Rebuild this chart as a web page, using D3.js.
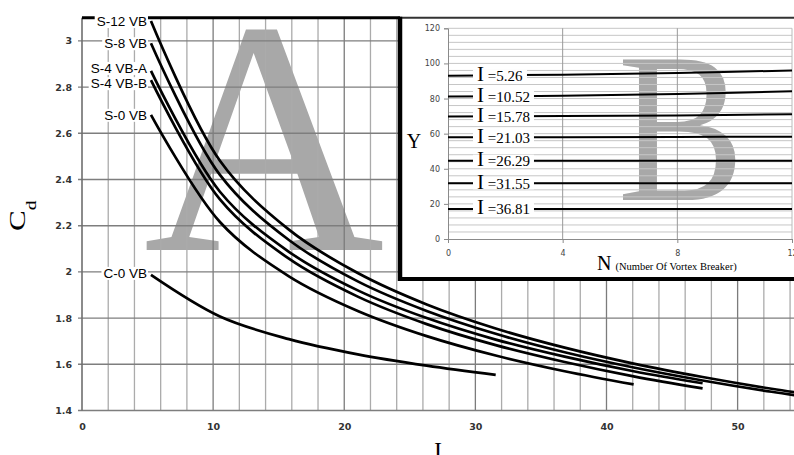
<!DOCTYPE html>
<html>
<head>
<meta charset="utf-8">
<script src="https://cdn.jsdelivr.net/npm/d3@7"></script>
<style>
  body { margin: 0; background: #fff; }
  svg { display: block; }
</style>
</head>
<body>
<div id="chart"></div>
<script>
// main chart data: Cd against I for each configuration
var iValues = [5.26, 10.52, 15.78, 21.03, 26.29, 31.55, 36.81, 42.07, 47.33, 52.59, 57.85];
var seriesNames = ["S-12 VB", "S-8 VB", "S-4 VB-A", "S-4 VB-B", "S-0 VB", "C-0 VB"];
var cdS12 = [3.086, 2.481, 2.183, 1.995, 1.859, 1.755, 1.672, 1.603, 1.545, 1.494, 1.450];
var cdS8 = [2.99, 2.420, 2.138, 1.959, 1.831, 1.732, 1.652, 1.586, 1.530, 1.481, 1.439];
var cdS4A = [2.87, 2.347, 2.087, 1.920, 1.800, 1.707, 1.633, 1.570, 1.518];
var cdS4B = [2.83, 2.314, 2.057, 1.893, 1.774, 1.683, 1.610, 1.548, 1.496];
var cdS0 = [2.68, 2.216, 1.981, 1.831, 1.722, 1.638, 1.570, 1.513];
var cdC0 = [1.987, 1.807, 1.709, 1.643, 1.594, 1.554];
var cdSeries = [cdS12, cdS8, cdS4A, cdS4B, cdS0, cdC0];
var yTicks = [1.4, 1.6, 1.8, 2, 2.2, 2.4, 2.6, 2.8, 3];
var xTicks = [0, 10, 20, 30, 40, 50];

// inset data: Y against N for each I
var nValues = [0, 4, 8, 12];
var insetNames = ["5.26", "10.52", "15.78", "21.03", "26.29", "31.55", "36.81"];
var yI1 = [93, 93.6, 94.5, 96];
var yI2 = [81.1, 81.6, 82.6, 84.2];
var yI3 = [69.7, 70, 70.4, 71];
var yI4 = [57.9, 58, 58.1, 58.3];
var yI5 = [44.6, 44.6, 44.6, 44.6];
var yI6 = [31.7, 31.7, 31.7, 31.7];
var yI7 = [17.1, 17.1, 17.1, 17.1];
var insetSeries = [yI1, yI2, yI3, yI4, yI5, yI6, yI7];
var insetYTicks = [0, 20, 40, 60, 80, 100, 120];
var insetXTicks = [0, 4, 8, 12];

// label nudges so the two S-4 labels do not overlap
var labelNudge = [0, 0, -3, 3, 0, -2];

var svg = d3.select("#chart")
  .append("svg")
    .attr("width", 794)
    .attr("height", 455);

svg.append("rect").attr("width", 794).attr("height", 455).attr("fill", "#fff");

// scales for the main chart
var x = d3.scaleLinear().domain([0, 54.3]).range([82, 794]);
var y = d3.scaleLinear().domain([1.4, 3.1]).range([410.5, 17.8]);

// big watermark letter A
svg.append("text")
  .attr("x", 264)
  .attr("y", 250)
  .attr("text-anchor", "middle")
  .style("font", "334px 'Liberation Serif', serif")
  .attr("fill", "#a8a8a8")
  .text("A");

// vertical grid lines every 2
svg.append("g").selectAll("line")
  .data(d3.range(2, 56, 2))
  .enter().append("line")
    .attr("x1", function(d) { return x(d); })
    .attr("x2", function(d) { return x(d); })
    .attr("y1", y(3.1))
    .attr("y2", y(1.4))
    .attr("stroke", function(d) { return d % 10 === 0 ? "#7c7c7c" : "#ababab"; })
    .attr("stroke-width", 1.3);

// horizontal grid lines
svg.append("g").selectAll("line")
  .data(yTicks)
  .enter().append("line")
    .attr("x1", x(0) - 4)
    .attr("x2", 794)
    .attr("y1", function(d) { return y(d); })
    .attr("y2", function(d) { return y(d); })
    .attr("stroke", "#7e7e7e")
    .attr("stroke-width", 1.4);

// left axis line and top border
svg.append("line")
  .attr("x1", x(0)).attr("x2", x(0))
  .attr("y1", y(3.1)).attr("y2", y(1.4))
  .attr("stroke", "#6e6e6e").attr("stroke-width", 1.6);
svg.append("line")
  .attr("x1", x(0)).attr("x2", 400)
  .attr("y1", y(3.1)).attr("y2", y(3.1))
  .attr("stroke", "#000").attr("stroke-width", 3);

// axes tick labels
var yAxis = d3.axisLeft(y).tickValues(yTicks).tickSize(0).tickPadding(10).tickFormat(d3.format(""));
var gy = svg.append("g").attr("transform", "translate(" + x(0) + ",0)").call(yAxis);
var xAxis = d3.axisBottom(x).tickValues(xTicks).tickSize(0).tickPadding(13);
var gx = svg.append("g").attr("transform", "translate(0," + y(1.4) + ")").call(xAxis);
[gx, gy].forEach(function(g) {
  g.select(".domain").remove();
  g.selectAll("text")
    .style("font", "bold 9.5px 'DejaVu Sans', sans-serif")
    .attr("fill", "#333");
});

// curves
var line = d3.line()
  .x(function(d) { return x(d[0]); })
  .y(function(d) { return y(d[1]); })
  .curve(d3.curveCatmullRom.alpha(0.5));

cdSeries.forEach(function(vals) {
  var pts = vals.map(function(v, i) { return [iValues[i], v]; });
  svg.append("path")
    .datum(pts)
    .attr("d", line)
    .attr("fill", "none")
    .attr("stroke", "#000")
    .attr("stroke-width", 2.7);
});

// curve labels with white background
cdSeries.forEach(function(vals, k) {
  var g = svg.append("g");
  var ty = y(vals[0]) + labelNudge[k] + 5;
  var t = g.append("text")
    .attr("x", x(iValues[0]) - 4)
    .attr("y", ty)
    .attr("text-anchor", "end")
    .style("font", "13.5px 'Liberation Sans', sans-serif")
    .attr("fill", "#000")
    .text(seriesNames[k]);
  var b = t.node().getBBox();
  g.insert("rect", "text")
    .attr("x", b.x - 2).attr("y", ty - 11)
    .attr("width", b.width + 3).attr("height", 13)
    .attr("fill", "#fff");
});

// axis titles
var cLabel = svg.append("text")
  .attr("transform", "translate(25,231) rotate(-90) scale(1.3,1)")
  .style("font", "24px 'Liberation Serif', serif")
  .attr("fill", "#000");
cLabel.append("tspan").text("C");
cLabel.append("tspan").attr("dy", 11).style("font-size", "15px").text("d");

svg.append("text")
  .attr("x", 438)
  .attr("y", 458)
  .attr("text-anchor", "middle")
  .style("font", "24px 'Liberation Serif', serif")
  .attr("fill", "#000")
  .text("I");

// ---- inset B ----
var inset = svg.append("g");
inset.append("rect")
  .attr("x", 400).attr("y", y(3.1))
  .attr("width", 400).attr("height", 279 - y(3.1))
  .attr("fill", "#fff");

var xn = d3.scaleLinear().domain([0, 12]).range([448, 792]);
var yn = d3.scaleLinear().domain([0, 120]).range([239, 28.3]);

// watermark B
inset.append("text")
  .attr("transform", "translate(681,200) scale(0.89,1)")
  .attr("text-anchor", "middle")
  .style("font", "214px 'Liberation Serif', serif")
  .attr("fill", "#a8a8a8")
  .text("B");

// inset grid
inset.append("g").selectAll("line")
  .data(d3.range(4, 124, 4))
  .enter().append("line")
    .attr("x1", xn(0)).attr("x2", xn(12))
    .attr("y1", function(d) { return yn(d); })
    .attr("y2", function(d) { return yn(d); })
    .attr("stroke", "#c6c6c6")
    .attr("stroke-width", 1);
inset.append("g").selectAll("line")
  .data([4, 8, 12])
  .enter().append("line")
    .attr("x1", function(d) { return xn(d); })
    .attr("x2", function(d) { return xn(d); })
    .attr("y1", yn(120)).attr("y2", yn(0))
    .attr("stroke", function(d) { return d === 12 ? "#bbb" : "#999"; })
    .attr("stroke-width", 1);

var ynAxis = d3.axisLeft(yn).tickValues(insetYTicks).tickSize(4).tickPadding(4);
var xnAxis = d3.axisBottom(xn).tickValues(insetXTicks).tickSize(4).tickPadding(7);
var gyn = inset.append("g").attr("transform", "translate(" + xn(0) + ",0)").call(ynAxis);
var gxn = inset.append("g").attr("transform", "translate(0," + yn(0) + ")").call(xnAxis);
[gxn, gyn].forEach(function(g) {
  g.select(".domain").attr("stroke", "#8a8a8a");
  g.selectAll(".tick line").attr("stroke", "#8a8a8a");
  g.selectAll("text")
    .style("font", "8px 'DejaVu Sans', sans-serif")
    .attr("fill", "#444");
});

// inset lines
var nline = d3.line()
  .x(function(d) { return xn(d[0]); })
  .y(function(d) { return yn(d[1]); })
  .curve(d3.curveCatmullRom.alpha(0.5));

insetSeries.forEach(function(vals) {
  inset.append("path")
    .datum(vals.map(function(v, i) { return [nValues[i], v]; }))
    .attr("d", nline)
    .attr("fill", "none")
    .attr("stroke", "#000")
    .attr("stroke-width", 2);
});

// inset labels
insetSeries.forEach(function(vals, k) {
  var g = inset.append("g");
  var t = g.append("text")
    .attr("x", 477)
    .attr("y", yn(vals[0]) + 5.5)
    .style("font", "15px 'Liberation Serif', serif")
    .attr("fill", "#000");
  t.append("tspan").style("font-size", "21px").text("I");
  t.append("tspan").text(" =" + insetNames[k]);
  var b = t.node().getBBox();
  g.insert("rect", "text")
    .attr("x", b.x - 4).attr("y", yn(vals[0]) - 6)
    .attr("width", b.width + 8).attr("height", 12)
    .attr("fill", "#fff");
});

// inset axis titles
inset.append("text")
  .attr("x", 414).attr("y", 148)
  .attr("text-anchor", "middle")
  .style("font", "20px 'Liberation Serif', serif")
  .text("Y");
var nLabel = inset.append("text")
  .attr("x", 597).attr("y", 270)
  .style("font", "20px 'Liberation Serif', serif");
nLabel.append("tspan").text("N");
nLabel.append("tspan").attr("dx", 4).style("font-size", "10.5px").text("(Number Of Vortex Breaker)");

// inset frame
inset.append("line")
  .attr("x1", 400).attr("x2", 800)
  .attr("y1", y(3.1)).attr("y2", y(3.1))
  .attr("stroke", "#333").attr("stroke-width", 2);
inset.append("line")
  .attr("x1", 400).attr("x2", 400)
  .attr("y1", y(3.1) - 1).attr("y2", 281)
  .attr("stroke", "#000").attr("stroke-width", 4.5);
inset.append("line")
  .attr("x1", 398).attr("x2", 800)
  .attr("y1", 279).attr("y2", 279)
  .attr("stroke", "#000").attr("stroke-width", 4);
</script>
</body>
</html>
